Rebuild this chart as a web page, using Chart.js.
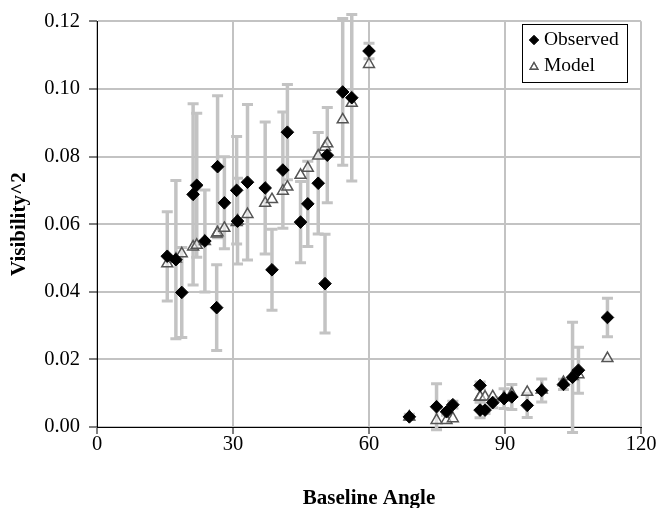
<!DOCTYPE html>
<html>
<head>
<meta charset="utf-8">
<script src="https://cdn.jsdelivr.net/npm/chart.js@4.4.1/dist/chart.umd.min.js"></script>
<style>
  body { margin: 0; background: #fff; }
  canvas { display: block; }
</style>
</head>
<body>
<canvas id="myChart" width="659" height="508"></canvas>
<script>
// baseline angle of each measurement (shared by observed and model)
const angles = [15.5, 17.4, 18.7, 21.2, 22.0, 23.8, 26.4, 26.6, 28.1, 30.8, 31.0, 33.2,
  37.1, 38.6, 41.0, 42.0, 44.9, 46.5, 48.8, 50.3, 50.8, 54.2, 56.2, 60.0,
  68.9, 74.9, 77.1, 78.5, 84.5, 84.5, 85.6, 87.3, 89.8, 91.5, 94.9, 98.1,
  102.9, 104.9, 106.2, 112.6];

// observed visibility^2
const observed = [0.0505, 0.0495, 0.0398, 0.0688, 0.0715, 0.0550, 0.0353, 0.0770, 0.0663, 0.0700, 0.0609, 0.0724,
  0.0707, 0.0465, 0.0760, 0.0872, 0.0606, 0.0660, 0.0721, 0.0424, 0.0804, 0.0991, 0.0974, 0.1112,
  0.0030, 0.0060, 0.0045, 0.0066, 0.0123, 0.0050, 0.0050, 0.0072, 0.0084, 0.0089, 0.0064, 0.0108,
  0.0126, 0.0147, 0.0168, 0.0324];

// +/- error on observed values
const observedErr = [0.0132, 0.0234, 0.0133, 0.0268, 0.0213, 0.0151, 0.0127, 0.0210, 0.0136, 0.0159, 0.0127, 0.0230,
  0.0195, 0.0120, 0.0172, 0.0141, 0.0120, 0.0126, 0.0150, 0.0146, 0.0141, 0.0217, 0.0246, 0.0023,
  0.0008, 0.0068, 0.0010, 0.0010, 0.0010, 0.0023, 0.0010, 0.0015, 0.0029, 0.0037, 0.0036, 0.0034,
  0.0015, 0.0163, 0.0068, 0.0057];

// model visibility^2
const model = [0.0483, 0.0497, 0.0513, 0.0533, 0.0538, 0.0549, 0.0571, 0.0575, 0.0588, 0.0605, 0.0610, 0.0629,
  0.0662, 0.0673, 0.0698, 0.0710, 0.0745, 0.0766, 0.0802, 0.0828, 0.0838, 0.0909, 0.0958, 0.1073,
  0.0030, 0.0020, 0.0020, 0.0025, 0.0089, 0.0089, 0.0089, 0.0090, 0.0087, 0.0098, 0.0103, 0.0110,
  0.0132, 0.0150, 0.0155, 0.0203];

const xTicks = [0, 30, 60, 90, 120];
const yTicks = [0, 0.02, 0.04, 0.06, 0.08, 0.10, 0.12];

const FONT = "'Liberation Serif', 'Times New Roman', serif";

// gray error bars behind the markers
const errorBars = {
  id: 'errorBars',
  beforeDatasetsDraw(chart) {
    const ctx = chart.ctx;
    const xs = chart.scales.x, ys = chart.scales.y;
    ctx.save();
    ctx.strokeStyle = '#c3c3c3';
    for (let i = 0; i < angles.length; i++) {
      const px = xs.getPixelForValue(angles[i]);
      const top = ys.getPixelForValue(observed[i] + observedErr[i]);
      const bot = ys.getPixelForValue(observed[i] - observedErr[i]);
      ctx.lineWidth = 3.5;
      ctx.beginPath();
      ctx.moveTo(px, top);
      ctx.lineTo(px, bot);
      ctx.stroke();
      ctx.lineWidth = 3;
      ctx.beginPath();
      ctx.moveTo(px - 5.5, top);
      ctx.lineTo(px + 5.5, top);
      ctx.moveTo(px - 5.5, bot);
      ctx.lineTo(px + 5.5, bot);
      ctx.stroke();
    }
    ctx.restore();
  }
};

// boxed legend in the top right corner
const boxLegend = {
  id: 'boxLegend',
  afterDraw(chart) {
    const ctx = chart.ctx;
    ctx.save();
    ctx.fillStyle = '#fff';
    ctx.fillRect(522, 24, 105, 58);
    ctx.strokeStyle = '#000';
    ctx.lineWidth = 1;
    ctx.strokeRect(522.5, 24.5, 105, 58);
    Chart.helpers.drawPoint(ctx, {pointStyle: 'rectRot', radius: 4.5, borderWidth: 1}, 534, 40);
    ctx.fillStyle = '#000';
    ctx.strokeStyle = '#000';
    ctx.fill();
    ctx.stroke();
    ctx.fillStyle = 'rgba(255,255,255,0.5)';
    ctx.strokeStyle = '#555';
    ctx.lineWidth = 1.3;
    Chart.helpers.drawPoint(ctx, {pointStyle: 'triangle', radius: 4.5, borderWidth: 1.3}, 534, 67);
    ctx.fill();
    ctx.stroke();
    ctx.fillStyle = '#000';
    ctx.font = '19.5px ' + FONT;
    ctx.textBaseline = 'middle';
    ctx.fillText('Observed', 544, 40);
    ctx.fillText('Model', 544, 66);
    ctx.restore();
  }
};

function points(ys) {
  return angles.map((a, i) => ({x: a, y: ys[i]}));
}

const ctx = document.getElementById('myChart').getContext('2d');
const myChart = new Chart(ctx, {
  type: 'scatter',
  data: {
    datasets: [{
      label: 'Observed',
      data: points(observed),
      pointStyle: 'rectRot',
      pointRadius: 6.3,
      backgroundColor: '#000',
      borderColor: '#000',
      borderWidth: 1
    }, {
      label: 'Model',
      data: points(model),
      pointStyle: 'triangle',
      pointRadius: 6.3,
      backgroundColor: 'rgba(255,255,255,0.5)',
      borderColor: '#555',
      borderWidth: 1.5
    }]
  },
  options: {
    responsive: false,
    animation: false,
    layout: { padding: { top: 16, right: 18, left: 0, bottom: 0 } },
    plugins: {
      legend: { display: false },
      tooltip: { enabled: false }
    },
    scales: {
      x: {
        type: 'linear',
        min: 0,
        max: 120,
        afterBuildTicks: s => { s.ticks = xTicks.map(v => ({value: v})); },
        afterFit: s => { s.height = 81; },
        grid: { color: '#c3c3c3', lineWidth: 2, tickColor: '#000', tickWidth: 1, tickLength: 7 },
        border: { color: '#000', width: 1 },
        ticks: { color: '#000', font: { family: FONT, size: 20.5 }, padding: -2, maxRotation: 0 },
        title: { display: true, text: 'Baseline Angle', color: '#000',
          font: { family: FONT, size: 21, weight: 'bold' }, padding: { top: 4, bottom: -3 } }
      },
      y: {
        type: 'linear',
        min: 0,
        max: 0.12,
        afterBuildTicks: s => { s.ticks = yTicks.map(v => ({value: v})); },
        afterFit: s => { s.width = 97; },
        grid: { color: '#c3c3c3', lineWidth: 2, tickColor: '#000', tickWidth: 1, tickLength: 8 },
        border: { color: '#000', width: 1 },
        ticks: { color: '#000', font: { family: FONT, size: 20.5 }, padding: 9,
          callback: v => v.toFixed(2) },
        title: { display: true, text: 'Visibility^2', color: '#000',
          font: { family: FONT, size: 21, weight: 'bold' }, padding: { top: 7, bottom: 0 } }
      }
    }
  },
  plugins: [errorBars, boxLegend]
});
</script>
</body>
</html>
